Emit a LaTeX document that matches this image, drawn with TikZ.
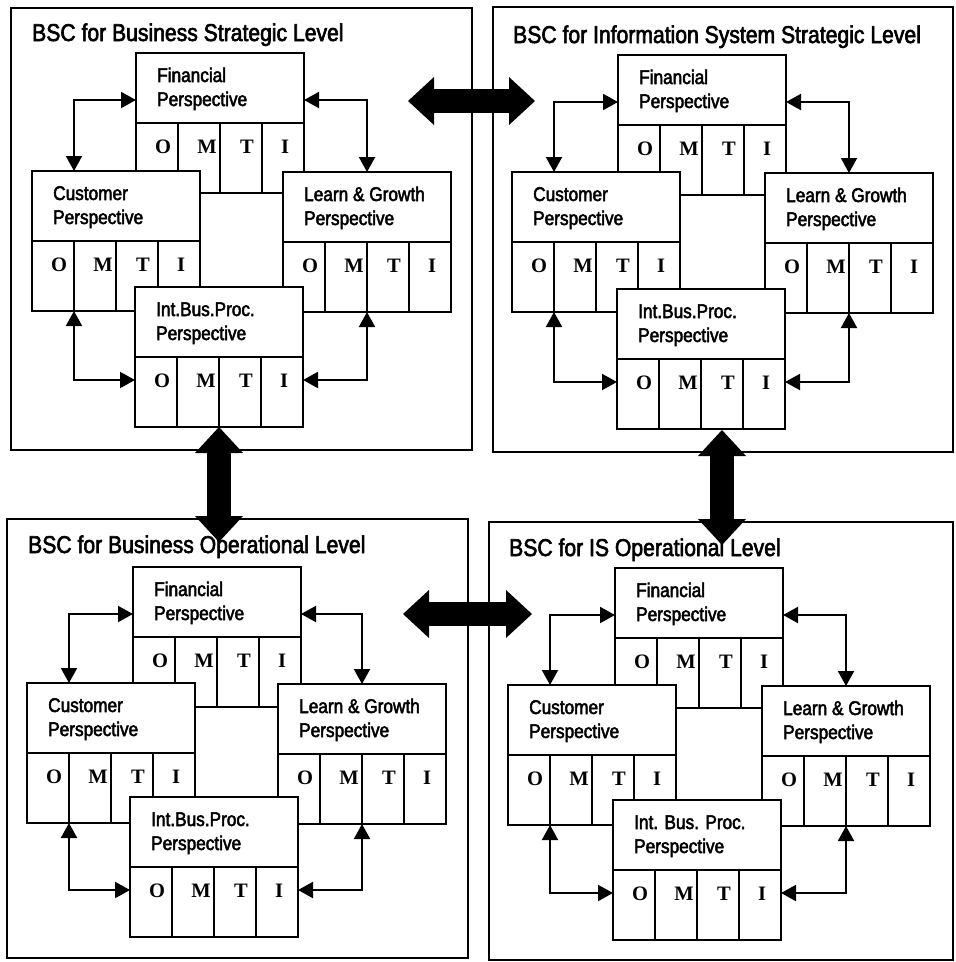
\documentclass[tikz,border=0pt]{standalone}
\usepackage{fontspec}
\usetikzlibrary{arrows.meta}
\newfontfamily\hsans[FakeStretch=0.87, FakeBold=2.5]{Liberation Sans}
\newfontfamily\tserif{Liberation Serif}

\tikzset{
  panel/.style={draw, line width=2pt, anchor=north west, inner sep=0pt, outer sep=0pt},
  pbox/.style={draw, fill=white, line width=2.2pt, anchor=north west, inner sep=0pt,
    outer sep=0pt, minimum width=168pt, minimum height=140pt},
  pline/.style={line width=2.2pt},
  htext/.style={anchor=base west, inner sep=0pt, font=\hsans\fontsize{19.8}{24}\selectfont},
  ptitle/.style={anchor=base west, inner sep=0pt, font=\hsans\fontsize{24.3}{28}\selectfont},
  cell/.style={anchor=base, inner sep=0pt, font=\tserif\bfseries\fontsize{20.5}{24}\selectfont},
  conn/.style={line width=2pt,
    {Triangle[length=15pt,width=16pt]}-{Triangle[length=15pt,width=16pt]}},
  bigarrow/.style={line width=24pt,
    {Triangle[length=26pt,width=48pt,line width=0pt]}-{Triangle[length=26pt,width=48pt,line width=0pt]}}
}

% one perspective box: header with two text lines, then the O/M/T/I cells
\newcommand\persp[5]{%
  \node[pbox] (#1) at (#2,#3) {};
  \draw[pline] ([yshift=-70pt]#1.north west) -- ([yshift=-70pt]#1.north east);
  \foreach \k in {1,2,3}{%
    \draw[pline] ([xshift=\k*42pt, yshift=-70pt]#1.north west) -- ([xshift=\k*42pt]#1.south west);}
  \node[htext] (#1-h1) at ([xshift=21pt,yshift=-29pt]#1.north west) {#4};
  \node[htext] (#1-h2) at ([xshift=21pt,yshift=-53pt]#1.north west) {#5};
  \node[cell] (#1-o) at ([xshift=27pt,yshift=-100pt]#1.north west) {O};
  \node[cell] (#1-m) at ([xshift=71pt,yshift=-100pt]#1.north west) {M};
  \node[cell] (#1-t) at ([xshift=111pt,yshift=-100pt]#1.north west) {T};
  \node[cell] (#1-i) at ([xshift=149pt,yshift=-100pt]#1.north west) {I};
}

% the four links between the perspectives of one scorecard
\newcommand\conns[1]{%
  \draw[conn] ([xshift=42pt]#1cus.north west) |- ([yshift=-47pt]#1fin.north west);
  \draw[conn] ([xshift=84pt]#1lrn.north west) |- ([yshift=-47pt]#1fin.north east);
  \draw[conn] ([xshift=42pt]#1cus.south west) |- ([yshift=-93pt]#1ibp.north west);
  \draw[conn] ([xshift=84pt]#1lrn.south west) |- ([yshift=-93pt]#1ibp.north east);
}

\begin{document}
\begin{tikzpicture}[x=1pt, y=-1pt]
\useasboundingbox (0,0) rectangle (956,962);

% scorecard frames
\node[panel, minimum width=461pt, minimum height=442pt] (TL) at (11,8) {};
\node[panel, minimum width=460pt, minimum height=445pt] (TR) at (493,7) {};
\node[panel, minimum width=461pt, minimum height=439pt] (BL) at (7,519) {};
\node[panel, minimum width=464pt, minimum height=438pt] (BR) at (489,522) {};

\node[ptitle] (TLt) at (32,41) {BSC for Business Strategic Level};
\node[ptitle] (TRt) at (513,43) {BSC for Information System Strategic Level};
\node[ptitle] (BLt) at (28,553) {BSC for Business Operational Level};
\node[ptitle] (BRt) at (509,556) {BSC for IS Operational Level};

% business strategic
\persp{TLfin}{136}{53}{Financial}{Perspective}
\persp{TLcus}{32}{171}{Customer}{Perspective}
\persp{TLlrn}{283}{172}{Learn \& Growth}{Perspective}
\persp{TLibp}{135}{287}{Int.Bus.Proc.}{Perspective}
\conns{TL}

% information system strategic
\persp{TRfin}{618}{55}{Financial}{Perspective}
\persp{TRcus}{512}{172}{Customer}{Perspective}
\persp{TRlrn}{765}{173}{Learn \& Growth}{Perspective}
\persp{TRibp}{617}{289}{Int.Bus.Proc.}{Perspective}
\conns{TR}

% business operational
\persp{BLfin}{133}{567}{Financial}{Perspective}
\persp{BLcus}{27}{683}{Customer}{Perspective}
\persp{BLlrn}{278}{684}{Learn \& Growth}{Perspective}
\persp{BLibp}{130}{797}{Int.Bus.Proc.}{Perspective}
\conns{BL}

% IS operational
\persp{BRfin}{615}{568}{Financial}{Perspective}
\persp{BRcus}{508}{685}{Customer}{Perspective}
\persp{BRlrn}{762}{686}{Learn \& Growth}{Perspective}
\persp{BRibp}{613}{800}{Int. Bus. Proc.}{Perspective}
\conns{BR}

% alignment arrows between the scorecards
\coordinate (hs1) at (408,101);
\coordinate (hs2) at (535,101);
\coordinate (ho1) at (403,614);
\coordinate (ho2) at (532,614);
\coordinate (vb2) at (TLibp.south |- 0,542);
\coordinate (vi1) at (722,430);
\coordinate (vi2) at (722,545);
\draw[bigarrow] (hs1) -- (hs2);
\draw[bigarrow] (ho1) -- (ho2);
\draw[bigarrow] (TLibp.south) -- (vb2);
\draw[bigarrow] (vi1) -- (vi2);
\end{tikzpicture}
\end{document}
